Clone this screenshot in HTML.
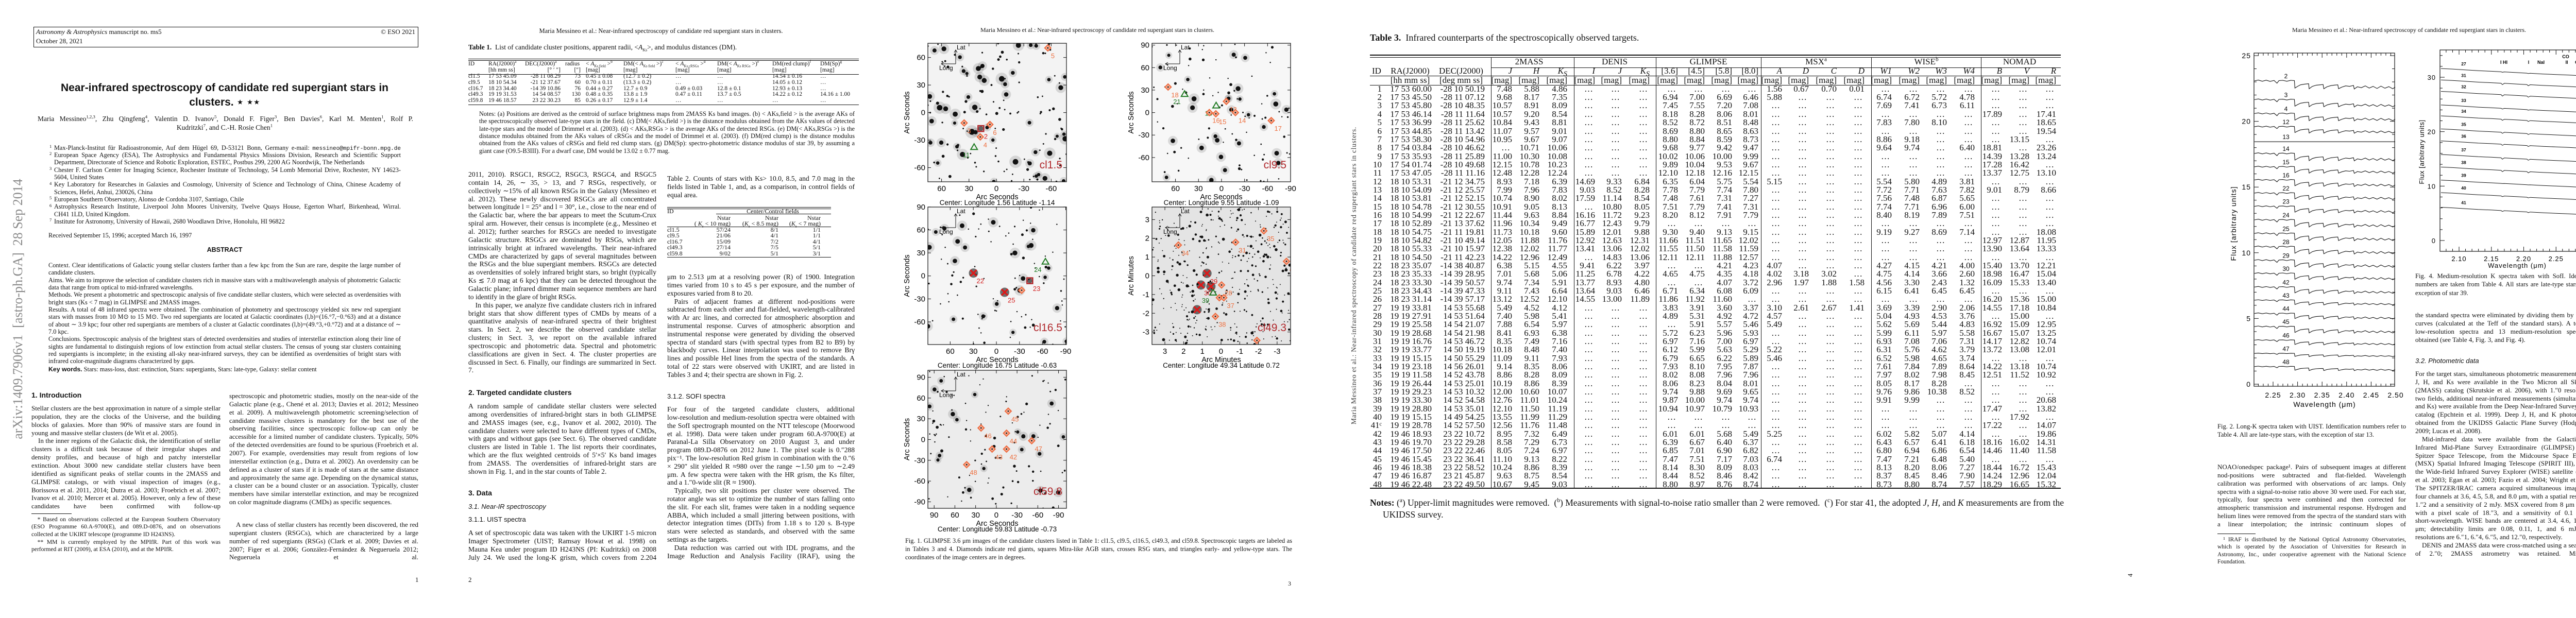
<!DOCTYPE html>
<html><head><meta charset="utf-8">
<style>
body{margin:0}
#root{position:relative;width:5090px;height:1200px;background:#fff;overflow:hidden;font-family:"Liberation Serif",serif;color:#111}
.a{position:absolute;white-space:nowrap}
.ln{position:absolute;overflow:hidden;text-align:justify;text-align-last:justify;white-space:normal}
.ln.e{text-align-last:left}
.sans{font-family:"Liberation Sans",sans-serif}
.hr{position:absolute;background:#111}
sup{font-size:65%;line-height:0}
</style></head>
<body>
<div id="root">
<!-- PAGE 1 -->
<div class="a" style="left:35px;top:600px;font-size:26px;color:#8a8a8a;transform:translate(-50%,-50%) rotate(-90deg)">arXiv:1409.7906v1&nbsp; [astro-ph.GA]&nbsp; 28 Sep 2014</div>
<div class="a" style="left:65px;top:52px;width:745px;height:38px;border:1px solid #111"></div>
<div class="a" style="left:70px;top:54px;font-size:13px"><i>Astronomy &amp; Astrophysics</i> manuscript no. ms5</div>
<div class="a" style="left:70px;top:72px;font-size:13px">October 28, 2021</div>
<div class="a" style="right:4284px;top:54px;font-size:13px">© ESO 2021</div>
<div class="a sans" style="left:436px;top:159px;font-size:21px;font-weight:bold;transform:translateX(-50%)">Near-infrared spectroscopy of candidate red supergiant stars in</div>
<div class="a sans" style="left:436px;top:186px;font-size:21px;font-weight:bold;transform:translateX(-50%)">clusters. ⋆ ⋆⋆</div>
<div class="ln" style="left:73px;top:222px;width:729px;height:18px;line-height:18px;font-size:13.5px">Maria Messineo<sup>1,2,3</sup>, Zhu Qingfeng<sup>4</sup>, Valentin D. Ivanov<sup>5</sup>, Donald F. Figer<sup>3</sup>, Ben Davies<sup>6</sup>, Karl M. Menten<sup>1</sup>, Rolf P.</div>
<div class="a" style="left:436px;top:240px;font-size:13.5px;transform:translateX(-50%)">Kudritzki<sup>7</sup>, and C.-H. Rosie Chen<sup>1</sup></div>
<div class="a" style="left:94px;top:450px;font-size:12.3px">Received September 15, 1996; accepted March 16, 1997</div>
<div class="a sans" style="left:436px;top:478px;font-size:12.5px;font-weight:bold;transform:translateX(-50%)">ABSTRACT</div>
<div class="a" style="left:94px;top:710px;font-size:12.3px"><b class="sans">Key words.</b> Stars: mass-loss, dust: extinction, Stars: supergiants, Stars: late-type, Galaxy: stellar content</div>
<div class="a sans" style="left:61px;top:759px;font-size:14px;font-weight:bold">1. Introduction</div>
<div class="hr" style="left:61px;top:997px;width:78px;height:1px"></div>
<div class="a" style="left:806px;top:1118px;font-size:13px">1</div>
<!-- PAGE 2 -->
<div class="a" style="left:1283px;top:53px;font-size:12.5px;transform:translateX(-50%)">Maria Messineo et al.: Near-infrared spectroscopy of candidate red supergiant stars in clusters.</div>
<div class="a" style="left:909px;top:84px;font-size:13.5px"><b>Table 1.</b>&nbsp; List of candidate cluster positions, apparent radii, &lt;<i>A</i><sub style="font-size:8px">Ks</sub>&gt;, and modulus distances (DM).</div>
<div class="a sans" style="left:909px;top:754px;font-size:14px;font-weight:bold">2. Targeted candidate clusters</div>
<div class="a sans" style="left:909px;top:949px;font-size:14px;font-weight:bold">3. Data</div>
<div class="a sans" style="left:909px;top:976px;font-size:13px;font-style:italic">3.1. Near-IR spectroscopy</div>
<div class="a sans" style="left:909px;top:1001px;font-size:13px">3.1.1. UIST spectra</div>
<div class="a sans" style="left:1295px;top:762px;font-size:13px">3.1.2. SOFI spectra</div>
<div class="a" style="left:909px;top:1118px;font-size:13px">2</div>
<!-- PAGE 3 -->
<div class="a" style="left:2130px;top:51px;font-size:12px;transform:translateX(-50%)">Maria Messineo et al.: Near-infrared spectroscopy of candidate red supergiant stars in clusters.</div>
<div class="a" style="left:2500px;top:1126px;font-size:12px">3</div>
<!-- PAGE 4 -->
<div class="a" style="left:2628px;top:535px;font-size:13.5px;letter-spacing:0.7px;color:#333;transform:translate(-50%,-50%) rotate(-90deg)">Maria Messineo et al.: Near-infrared spectroscopy of candidate red supergiant stars in clusters.</div>
<div class="a" style="left:2659px;top:63px;font-size:18px"><b>Table 3.</b>&nbsp; Infrared counterparts of the spectroscopically observed targets.</div>
<div class="a" style="left:2659px;top:966px;font-size:17.5px"><b>Notes:</b> (<sup>a</sup>) Upper-limit magnitudes were removed.&nbsp; (<sup>b</sup>) Measurements with signal-to-noise ratio smaller than 2 were removed.&nbsp; (<sup>c</sup>) For star 41, the adopted <i>J</i>, <i>H</i>, and <i>K</i> measurements are from the</div>
<div class="a" style="left:2684px;top:989px;font-size:17.5px">UKIDSS survey.</div>
<div class="a" style="left:4135px;top:1117px;font-size:13px;transform:translate(-50%,-50%) rotate(-90deg)">4</div>
<!-- PAGE 5 -->
<div class="a" style="left:4676px;top:51px;font-size:12px;transform:translateX(-50%)">Maria Messineo et al.: Near-infrared spectroscopy of candidate red supergiant stars in clusters.</div>
<div class="a sans" style="left:4688px;top:693px;font-size:13px;font-style:italic">3.2. Photometric data</div>
<div class="hr" style="left:4304px;top:1036px;width:74px;height:1px"></div>
<div class="a" style="left:5046px;top:1126px;font-size:12px">5</div>

<svg id="fig" width="5090" height="1200" style="position:absolute;left:0;top:0" xmlns="http://www.w3.org/2000/svg"></svg>
</div>

<script>
// ===== Fig. 2 data (long-K UIST spectra) =====
const fig2Ids = ['2','3','4','12','13','14','15','16','22','23','24','25','28','29','30','42','43','44','45','46','47','48'];
const fig2Base = [23.08,21.65,20.59,19.59,18.45,17.55,16.54,15.54,14.54,13.53,12.5,11.47,10.46,9.43,8.43,7.39,6.39,5.38,4.38,3.35,2.34,1.34];
const fig2Depth = [1.0,0.9,0.9,0.8,0,0.9,0.8,0.8,0.8,0.8,0.9,0.9,0.9,0.9,0.8,0.8,0.6,0.7,0.8,0.6,0.4,0.5];
const longKwl = [2.212,2.220,2.228,2.236,2.244,2.252,2.258,2.262,2.270,2.278,2.286,2.2935,2.2945,2.300,2.306,2.314,2.322,2.3225,2.3235,2.330,2.338,2.346,2.352,2.3535,2.360,2.368,2.376,2.382,2.3835,2.390,2.398,2.406,2.414,2.4155,2.422,2.430,2.438,2.446,2.454,2.462,2.470,2.478,2.486,2.494,2.499];
const longKoff = [0,0.06,-0.03,0.05,-0.04,0.03,-0.18,0.02,0.04,-0.03,0.04,0.02,-0.55,-0.42,-0.30,-0.25,-0.22,-0.22,-0.60,-0.42,-0.33,-0.30,-0.28,-0.60,-0.45,-0.36,-0.32,-0.30,-0.60,-0.48,-0.38,-0.42,-0.35,-0.62,-0.45,-0.52,-0.38,-0.55,-0.42,-0.58,-0.40,-0.56,-0.44,-0.60,-0.48];
const fig2YTicks = [0,5,10,15,20,25];
const fig2XTicks = ['2.25','2.30','2.35','2.40','2.45','2.50'];
// ===== Fig. 4 data (medium-resolution SofI spectra) =====
const fig4Ids = ['27','31','32','33','34','35','36','37','38','39','40','41'];
const fig4Base = [31.6,29.5,27.4,24.9,22.9,20.5,18.3,15.8,13.5,11.1,8.8,6.1];
const fig4Depth = [0.3,1,1,0.5,0.8,0.8,0.8,1,1,0.1,0.5,0.6];
const medKwl = [2.072,2.090,2.110,2.130,2.150,2.165,2.167,2.170,2.190,2.205,2.207,2.210,2.230,2.250,2.270,2.285,2.2935,2.2945,2.298,2.302,2.306,2.309];
const medKslope = [0,-0.1,-0.25,-0.4,-0.5,-0.6,-0.61,-0.62,-0.75,-0.85,-0.86,-0.87,-1.0,-1.1,-1.2,-1.3,-1.35,-1.36,-1.38,-1.4,-1.42,-1.44];
const medKfeat = [0,0,0,0,0,0,-0.25,0,0,0,-0.2,0,0,0,0,0,0,-0.95,-0.6,-0.55,-0.8,-0.6];
const fig4YTicks = [0,10,20,30];
const fig4XTicks = ['2.10','2.15','2.20','2.25','2.30'];
// ===== Fig. 1 target markers (data coordinates, arcsec / arcmin) =====
const cl15X = [35.3,7.1,17.6,-56.3,17,24.4];
const cl15Y = [-11.3,-13,-26.5,70.4,-17.4,-37.4];
const cl15Type = ['d','d','d','d','s','t'];
const cl15Lab = ['3','6','4','5','2','11'];
const cl95X = [69.6,48.1,7,-6.3,15.9,7.4,-18.1,-64.8];
const cl95Y = [34.1,25,9.6,14.9,0,-1.6,0,-10.7];
const cl95Type = ['d','t','t','d','d','d','d','d'];
const cl95Lab = ['18','21','13','12','16','15','14','17'];
const cl165X = [29.8,-10.7,-43.4,-32.8,-63.7];
const cl165Y = [3.7,-21.4,-6.3,-18.8,18.8];
const cl165Type = ['x','x','s','d','t'];
const cl165Lab = ['22','25','23','','24'];
const cl493X = [-2.29,-0.78,2.28,-3.5,0.75,1.07,0.54,-0.03,0.42,0.09,-0.15,1.28,0.3,-1.92];
const cl493Y = [2.4,1.79,1.64,0.77,0.13,-0.49,-0.57,-0.49,-0.89,-1.17,-1.17,-1.81,-2.17,-3.45];
const cl493Type = ['d','d','d','d','x','x','x','d','t','d','d','x','d','d'];
const cl493Lab = ['35','31','34','45','29','30','','28','39','','37','','38','32'];
const cl598X = [-17.2,22.1,-14.7,6.1,-14.7,-51.2,43];
const cl598Y = [41,16.7,9.2,-13.8,-13.8,-1.7,-36.3];
const cl598Type = ['d','d','d','d','d','d','d'];
const cl598Lab = ['45','46','44','43','42','47','48'];
const cl15XTicks=[60,30,0,-30,-60], cl15YTicks=[60,30,0,-30,-60];
const cl95XTicks=[60,30,0,-30,-60,-90], cl95YTicks=[90,60,30,0,-30,-60];
const cl165XTicks=[60,30,0,-30,-60,-90], cl165YTicks=[90,60,30,0,-30,-60];
const cl493XTicks=[3,2,1,0,-1,-2,-3], cl493YTicks=[3,2,1,0,-1,-2,-3];
const cl598XTicks=[90,60,30,0,-30,-60,-90], cl598YTicks=[90,60,30,0,-30,-60,-90];
// ===== Table 1 =====
const t1Rows = [
 ['cl1.5','17 53 45.09','-28 11 08.29','73','0.45 ± 0.08','(12.7 ± 0.2)','…','…','14.54 ± 0.16','…'],
 ['cl9.5','18 10 54.34','-21 12 37.67','60','0.70 ± 0.11','(13.3 ± 0.2)','…','…','14.05 ± 0.12','…'],
 ['cl16.7','18 23 34.40','-14 39 10.86','76','0.44 ± 0.27','12.7 ± 0.9','0.49 ± 0.03','12.8 ± 0.1','12.93 ± 0.13','…'],
 ['cl49.3','19 19 31.53','14 54 08.57','130','0.48 ± 0.35','13.8 ± 1.9','0.47 ± 0.11','13.7 ± 0.5','14.22 ± 0.12','14.16 ± 1.00'],
 ['cl59.8','19 46 18.57','23 22 30.23','85','0.26 ± 0.17','12.9 ± 1.4','…','…','…','…']];
// ===== Table 2 =====
const t2Rows = [['cl1.5','57/24','8/1','1/1'],['cl9.5','21/06','4/1','1/1'],['cl16.7','15/09','7/2','4/1'],['cl49.3','27/14','7/5','5/1'],['cl59.8','9/02','5/1','3/1']];
// ===== Table 3 =====
const t3Rows = [
"1|17 53 60.00|-28 10 50.19|7.48 5.88 4.86/x/x/1.56 0.67 0.70 0.01/x/x",
"2|17 53 45.50|-28 11 07.12|9.68 8.17 7.35/x/6.94 7.00 6.69 6.46/5.88 - - -/6.74 6.72 5.72 4.78/x",
"3|17 53 45.80|-28 10 48.35|10.57 8.91 8.09/x/7.45 7.55 7.20 7.08/x/7.69 7.41 6.73 6.11/x",
"4|17 53 46.14|-28 11 11.64|10.57 9.20 8.54/x/8.18 8.28 8.06 8.01/x/x/17.89 - 17.41",
"5|17 53 36.99|-28 11 25.62|10.84 9.43 8.81/x/8.52 8.72 8.51 8.48/x/7.83 7.80 8.10 -/- - 18.65",
"6|17 53 44.85|-28 11 13.42|11.07 9.57 9.01/x/8.69 8.80 8.65 8.63/x/x/- - 19.54",
"7|17 53 58.30|-28 10 54.96|10.95 9.67 9.07/x/8.80 8.84 8.59 8.73/x/8.86 9.18 - -/- 13.15 -",
"8|17 54 03.84|-28 10 46.62|- 10.71 10.06/x/9.68 9.77 9.42 9.47/x/9.64 9.74 - 6.40/18.81 - 23.26",
"9|17 53 35.93|-28 11 25.89|11.00 10.30 10.08/x/10.02 10.06 10.00 9.99/x/x/14.39 13.28 13.24",
"10|17 54 01.74|-28 10 49.68|12.15 10.78 10.23/x/9.89 10.04 9.53 9.67/x/x/17.28 16.42 -",
"11|17 53 47.05|-28 11 11.16|12.48 12.28 12.24/x/12.10 12.18 12.16 12.15/x/x/13.37 12.75 13.10",
"12|18 10 53.31|-21 12 34.75|8.93 7.18 6.39/14.69 9.33 6.84/6.35 6.04 5.75 5.54/5.15 - - -/5.54 5.80 4.89 3.81/x",
"13|18 10 54.09|-21 12 25.57|7.99 7.96 7.83/9.03 8.52 8.28/7.78 7.79 7.74 7.80/x/7.72 7.71 7.63 7.82/9.01 8.79 8.66",
"14|18 10 53.81|-21 12 52.15|10.74 8.90 8.02/17.59 11.14 8.54/7.48 7.61 7.31 7.27/x/7.56 7.48 6.87 5.65/x",
"15|18 10 54.78|-21 12 30.55|10.91 9.05 8.13/- 10.80 8.05/7.51 7.79 7.41 7.31/x/7.74 7.71 6.96 6.00/x",
"16|18 10 54.99|-21 12 22.67|11.44 9.63 8.84/16.16 11.72 9.23/8.20 8.12 7.91 7.79/x/8.40 8.19 7.89 7.51/x",
"17|18 10 52.89|-21 13 37.62|11.96 10.34 9.49/16.77 12.43 9.79/x/x/x/x",
"18|18 10 54.75|-21 11 19.81|11.73 10.18 9.60/15.89 12.01 9.88/9.30 9.40 9.13 9.15/x/9.19 9.27 8.69 7.14/- - 18.08",
"19|18 10 54.82|-21 10 49.14|12.05 11.88 11.76/12.92 12.63 12.31/11.66 11.51 11.65 12.02/x/x/12.97 12.87 11.95",
"20|18 10 55.33|-21 10 15.97|12.38 12.02 11.77/13.41 13.06 12.02/11.55 11.50 11.58 11.59/x/x/13.90 13.64 13.33",
"21|18 10 54.50|-21 11 42.23|14.22 12.96 12.49/- 14.83 13.06/12.11 12.11 11.88 12.57/x/x/x",
"22|18 23 35.07|-14 38 40.87|6.38 5.15 4.55/9.41 6.22 3.97/- - 4.21 4.23/4.07 - - -/4.27 4.15 4.21 4.00/15.40 13.70 12.21",
"23|18 23 35.33|-14 39 28.95|7.01 5.68 5.06/11.25 6.78 4.22/4.65 4.75 4.35 4.18/4.02 3.18 3.02 -/4.75 4.14 3.66 2.60/18.98 16.47 15.04",
"24|18 23 33.30|-14 39 50.57|9.74 7.34 5.91/13.77 8.93 4.80/- - 4.07 3.72/2.96 1.97 1.88 1.58/4.56 3.30 2.43 1.32/16.09 15.33 13.40",
"25|18 23 34.43|-14 39 47.33|9.11 7.43 6.64/13.64 9.03 6.46/6.71 6.34 6.08 6.09/x/6.15 6.41 6.45 6.45/x",
"26|18 23 31.14|-14 39 57.17|13.12 12.52 12.10/14.55 13.00 11.89/11.86 11.92 11.60 -/x/x/16.20 15.36 15.00",
"27|19 19 33.81|14 53 55.68|5.49 4.52 4.12/x/3.83 3.91 3.60 3.37/3.10 2.61 2.67 1.41/3.69 3.39 2.90 2.06/14.55 17.18 10.84",
"28|19 19 27.91|14 53 51.64|7.40 5.98 5.41/x/4.89 5.31 4.92 4.72/4.57 - - -/5.04 4.93 4.53 3.76/- 15.00 -",
"29|19 19 25.58|14 54 21.07|7.88 6.54 5.97/x/- 5.91 5.57 5.46/5.49 - - -/5.62 5.69 5.44 4.83/16.92 15.09 12.95",
"30|19 19 28.68|14 54 21.98|8.41 6.93 6.38/x/5.72 6.23 5.96 5.93/x/5.99 6.11 5.97 5.58/16.67 15.07 13.25",
"31|19 19 16.76|14 53 46.72|8.35 7.49 7.16/x/6.97 7.16 7.00 6.97/x/6.93 7.08 7.06 7.31/14.17 12.82 10.74",
"32|19 19 33.77|14 50 19.19|10.18 8.48 7.40/x/6.12 5.99 5.63 5.29/5.22 - - -/6.31 5.76 4.62 3.79/13.72 13.08 12.01",
"33|19 19 15.15|14 50 55.29|11.09 9.11 7.93/x/6.79 6.65 6.22 5.89/5.46 - - -/6.52 5.98 4.65 3.74/x",
"34|19 19 23.18|14 56 26.01|9.14 8.35 8.06/x/7.93 8.10 7.95 7.87/x/7.61 7.84 7.89 8.64/14.22 13.18 10.74",
"35|19 19 11.58|14 52 43.78|8.86 8.28 8.09/x/8.02 8.08 7.96 7.96/x/7.97 8.02 7.98 8.45/12.51 11.52 10.92",
"36|19 19 26.44|14 53 25.01|10.19 8.86 8.39/x/8.06 8.23 8.04 8.01/x/8.05 8.17 8.28 -/x",
"37|19 19 29.23|14 53 10.32|12.00 10.60 10.07/x/9.74 9.88 9.69 9.65/x/9.76 9.86 10.38 8.52/x",
"38|19 19 33.30|14 52 54.58|12.76 11.01 10.24/x/9.87 10.00 9.74 9.74/x/9.91 9.99 - -/- - 20.68",
"39|19 19 28.80|14 53 35.01|12.10 11.50 11.19/x/10.94 10.97 10.79 10.93/x/x/17.47 - 13.82",
"40|19 19 15.15|14 49 54.25|13.55 11.99 11.29/x/x/x/x/- 17.92 -",
"41ᶜ|19 19 28.78|14 52 57.50|12.56 11.76 11.48/x/x/x/x/17.22 - 14.07",
"42|19 46 18.93|23 22 10.72|8.95 7.32 6.49/x/6.01 6.01 5.68 5.49/5.25 - - -/6.02 5.82 5.07 4.14/- - 19.86",
"43|19 46 19.70|23 22 29.28|8.58 7.29 6.73/x/6.39 6.67 6.40 6.37/x/6.43 6.57 6.41 6.18/18.16 16.02 14.31",
"44|19 46 17.50|23 22 22.46|8.05 7.24 6.97/x/6.85 7.01 6.90 6.82/x/6.80 6.94 6.86 6.54/14.46 11.40 11.58",
"45|19 46 15.45|23 22 36.41|11.10 9.13 8.22/x/7.47 7.51 7.17 7.03/6.74 - - -/7.47 7.21 6.48 5.40/x",
"46|19 46 18.38|23 22 58.52|10.24 8.86 8.39/x/8.14 8.30 8.09 8.03/x/8.13 8.20 8.06 7.27/18.44 16.72 15.43",
"47|19 46 16.87|23 21 45.87|9.63 8.75 8.54/x/8.44 8.52 8.46 8.42/x/8.37 8.45 8.46 7.90/14.24 12.96 12.04",
"48|19 46 22.48|23 22 49.50|10.67 9.45 9.03/x/8.80 8.97 8.76 8.74/x/8.73 8.80 8.74 7.57/18.29 16.65 15.32"];
const t3ColNames = ['J','H','K<sub>S</sub>','I','J','K<sub>S</sub>','[3.6]','[4.5]','[5.8]','[8.0]','A','D','C','D','W1','W2','W3','W4','B','V','R'];
const t3Groups = ['2MASS','DENIS','GLIMPSE','MSX<sup>a</sup>','WISE<sup>b</sup>','NOMAD'];

// ================= helpers =================
const root = document.getElementById('root');
const svg = document.getElementById('fig');
const NS = 'http://www.w3.org/2000/svg';
const W = 5090;
const cv = document.createElement('canvas').getContext('2d');

function txt(x, y, s, fs, align, name, opts) {
  const d = document.createElement('div');
  d.className = 'a' + (opts && opts.sans ? ' sans' : '');
  
  
  let st = `top:${y - fs * 0.6}px;line-height:${fs * 1.2}px;font-size:${fs}px;`;
  if (align === 'r') st += `right:${W - x}px;`;
  else if (align === 'c') st += `left:${x}px;transform:translateX(-50%);`;
  else st += `left:${x}px;`;
  if (opts && opts.style) st += opts.style;
  d.style.cssText = st;
  d.innerHTML = s;
  root.appendChild(d);
  return d;
}
function rule(x, y, w, h, name) {
  const d = document.createElement('div');
  d.className = 'hr';
  
  
  d.style.cssText = `left:${x}px;top:${y}px;width:${w}px;height:${h}px`;
  root.appendChild(d);
}
function flow(name, x, y, w, lh, fs, paras, cont) {
  cv.font = fs + 'px "Liberation Serif"';
  let cy = y;
  paras.forEach((p0, pi) => {
    let p = p0, ind = 0;
    if (p[0] === '>') { ind = fs; p = p.slice(1); }
    const words = p.split(' ');
    const lines = []; let cur = '';
    words.forEach(wd => {
      const t = cur ? cur + ' ' + wd : wd;
      const avail = w - 3 - (lines.length === 0 ? ind : 0);
      if (cv.measureText(t).width > avail && cur) { lines.push(cur); cur = wd; } else cur = t;
    });
    if (cur) lines.push(cur);
    lines.forEach((t, i) => {
      const d = document.createElement('div');
      const last = (i === lines.length - 1) && !(cont && pi === paras.length - 1);
      d.className = 'ln' + (last ? ' e' : '');
      
      
      const ix = i === 0 ? ind : 0;
      d.style.cssText = `left:${x + ix}px;top:${cy - lh / 2}px;width:${w - ix}px;height:${lh}px;line-height:${lh}px;font-size:${fs}px`;
      d.textContent = t;
      root.appendChild(d);
      cy += lh;
    });
  });
  return cy;
}
function fixedLines(name, x, y, w, lh, fs, arr) {
  arr.forEach((a, i) => {
    const d = document.createElement('div');
    d.className = 'ln' + (a[1] ? '' : ' e');
    
    
    d.style.cssText = `left:${x}px;top:${y + i * lh - lh / 2}px;width:${w}px;height:${lh}px;line-height:${lh}px;font-size:${fs}px`;
    d.innerHTML = a[0];
    root.appendChild(d);
  });
}
function S(tag, attrs, parent) {
  const e = document.createElementNS(NS, tag);
  for (const k in attrs) e.setAttribute(k, attrs[k]);
  (parent || svg).appendChild(e);
  return e;
}
function lin(d0, d1, r0, r1) { return v => r0 + (v - d0) * (r1 - r0) / (d1 - d0); }

// ================= PAGE 1 text =================
fixedLines('affiliation', 105, 287, 673, 14.33, 12.3, [
 ['Max-Planck-Institut für Radioastronomie, Auf dem Hügel 69, D-53121 Bonn, Germany e-mail: <span style="font-family:Liberation Mono;font-size:11px">messineo@mpifr-bonn.mpg.de</span>', true],
 ['European Space Agency (ESA), The Astrophysics and Fundamental Physics Missions Division, Research and Scientific Support', true],
 ['Department, Directorate of Science and Robotic Exploration, ESTEC, Postbus 299, 2200 AG Noordwijk, The Netherlands', false],
 ['Chester F. Carlson Center for Imaging Science, Rochester Institute of Technology, 54 Lomb Memorial Drive, Rochester, NY 14623-', true],
 ['5604, United States', false],
 ['Key Laboratory for Researches in Galaxies and Cosmology, University of Science and Technology of China, Chinese Academy of', true],
 ['Sciences, Hefei, Anhui, 230026, China', false],
 ['European Southern Observatory, Alonso de Cordoba 3107, Santiago, Chile', false],
 ['Astrophysics Research Institute, Liverpool John Moores University, Twelve Quays House, Egerton Wharf, Birkenhead, Wirral.', true],
 ['CH41 1LD, United Kingdom.', false],
 ['Institute for Astronomy, University of Hawaii, 2680 Woodlawn Drive, Honolulu, HI 96822', false]]);
[['1',0],['2',1],['3',3],['4',5],['5',7],['6',8],['7',10]].forEach(a => {
  txt(96, 284 + a[1] * 14.33, a[0], 8.5, 'l', 'affiliation-number');
});
flow('abstract', 94, 515, 684, 14.35, 12.3, [
 'Context. Clear identifications of Galactic young stellar clusters farther than a few kpc from the Sun are rare, despite the large number of candidate clusters.',
 'Aims. We aim to improve the selection of candidate clusters rich in massive stars with a multiwavelength analysis of photometric Galactic data that range from optical to mid-infrared wavelengths.',
 'Methods. We present a photometric and spectroscopic analysis of five candidate stellar clusters, which were selected as overdensities with bright stars (Ks < 7 mag) in GLIMPSE and 2MASS images.',
 'Results. A total of 48 infrared spectra were obtained. The combination of photometry and spectroscopy yielded six new red supergiant stars with masses from 10 M⊙ to 15 M⊙. Two red supergiants are located at Galactic coordinates (l,b)=(16.°7,−0.°63) and at a distance of about ∼ 3.9 kpc; four other red supergiants are members of a cluster at Galactic coordinates (l,b)=(49.°3,+0.°72) and at a distance of ∼ 7.0 kpc.',
 'Conclusions. Spectroscopic analysis of the brightest stars of detected overdensities and studies of interstellar extinction along their line of sights are fundamental to distinguish regions of low extinction from actual stellar clusters. The census of young star clusters containing red supergiants is incomplete; in the existing all-sky near-infrared surveys, they can be identified as overdensities of bright stars with infrared color-magnitude diagrams characterized by gaps.']);
flow('intro-left', 61, 793, 367, 15.85, 13, [
 'Stellar clusters are the best approximation in nature of a simple stellar population, they are the clocks of the Universe, and the building blocks of galaxies. More than 90% of massive stars are found in young and massive stellar clusters (de Wit et al. 2005).',
 '>In the inner regions of the Galactic disk, the identification of stellar clusters is a difficult task because of their irregular shapes and density profiles, and because of high and patchy interstellar extinction. About 3000 new candidate stellar clusters have been identified as significant peaks of stellar counts in the 2MASS and GLIMPSE catalogs, or with visual inspection of images (e.g., Borissova et al. 2011, 2014; Dutra et al. 2003; Froebrich et al. 2007; Ivanov et al. 2010; Mercer et al. 2005). However, only a few of these candidates have been confirmed with follow-up'], true);
flow('footnotes-p1', 61, 1009, 367, 14.6, 11.6, [
 '>* Based on observations collected at the European Southern Observatory (ESO Programme 60.A-9700(E), and 089.D-0876, and on observations collected at the UKIRT telescope (programme ID H243NS).',
 '>** MM is currently employed by the MPIfR. Part of this work was performed at RIT (2009), at ESA (2010), and at the MPIfR.']);
flow('intro-right', 445, 769, 367, 15.85, 13, [
 'spectroscopic and photometric studies, mostly on the near-side of the Galactic plane (e.g., Chené et al. 2013; Davies et al. 2012; Messineo et al. 2009). A multiwavelength photometric screening/selection of candidate massive clusters is mandatory for the best use of the observing facilities, since spectroscopic follow-up can only be accessible for a limited number of candidate clusters. Typically, 50% of the detected overdensities are found to be spurious (Froebrich et al. 2007). For example, overdensities may result from regions of low interstellar extinction (e.g., Dutra et al. 2002). An overdensity can be defined as a cluster of stars if it is made of stars at the same distance and approximately the same age. Depending on the dynamical status, a cluster can be a bound cluster or an association. Typically, cluster members have similar interstellar extinction, and may be recognized on color magnitude diagrams (CMDs) as specific sequences.']);
flow('intro-right-2', 445, 1019, 367, 15.85, 13, [
 '>A new class of stellar clusters has recently been discovered, the red supergiant clusters (RSGCs), which are characterized by a large number of red supergiants (RSGs) (Clark et al. 2009; Davies et al. 2007; Figer et al. 2006; González-Fernández & Negueruela 2012; Negueruela et al.'], true);

// ================= PAGE 2 =================
rule(909, 114, 758, 1, 'table1-top-rule'); rule(909, 117, 758, 1, 'table1-top-rule-2');
rule(909, 144, 758, 1, 'table1-header-rule'); rule(909, 203, 758, 1, 'table1-bottom-rule');
const t1X = [909, 948, 1088, 1127, 1137, 1210, 1311, 1392, 1499, 1592];
const t1Al = ['l','l','r','r','l','l','l','l','l','l'];
const t1H1 = ['ID','RA(J2000)<sup>a</sup>','DEC(J2000)<sup>a</sup>','radius','&lt; <i>A</i><sub style="font-size:7px">Ks field</sub> &gt;<sup>b</sup>','DM(&lt; <i>A</i><sub style="font-size:7px">Ks field</sub> &gt;)<sup>c</sup>','&lt; <i>A</i><sub style="font-size:7px">Ks cRSGs</sub> &gt;<sup>d</sup>','DM(&lt; <i>A</i><sub style="font-size:7px">Ks RSGs</sub> &gt;)<sup>e</sup>','DM(red clump)<sup>f</sup>','DM(Sp)<sup>g</sup>'];
const t1H2 = ['','[hh mm ss]','[° ′ ″]','[″]','[mag]','[mag]','[mag]','[mag]','[mag]','[mag]'];
t1H1.forEach((h, i) => { txt(i === 2 ? 1019 : (i === 3 ? 1097 : t1X[i]), 125, h, 11.5, 'l', 'table1-header'); });
t1H2.forEach((h, i) => { if (h) txt(t1X[i], 137, h, 11.5, t1Al[i], 'table1-units'); });
t1Rows.forEach((r, ri) => r.forEach((c, ci) => { txt(t1X[ci], 149 + ri * 11.7, c, 11.5, t1Al[ci], 'table1-cell'); }));
flow('table1-notes', 930, 221, 729, 14.4, 12.3, [
 'Notes: (a) Positions are derived as the centroid of surface brightness maps from 2MASS Ks band images. (b) < AKs,field > is the average AKs of the spectroscopically observed late-type stars in the field. (c) DM(< AKs,field >) is the distance modulus obtained from the AKs values of detected late-type stars and the model of Drimmel et al. (2003). (d) < AKs,RSGs > is the average AKs of the detected RSGs. (e) DM(< AKs,RSGs >) is the distance modulus obtained from the AKs values of cRSGs and the model of Drimmel et al. (2003). (f) DM(red clump) is the distance modulus obtained from the AKs values of cRSGs and field red clump stars. (g) DM(Sp): spectro-photometric distance modulus of star 39, by assuming a giant case (O9.5-B3III). For a dwarf case, DM would be 13.02 ± 0.77 mag.']);
flow('p2-left-a', 909, 339, 365, 15.85, 13.6, [
 '2011, 2010). RSGC1, RSGC2, RSGC3, RSGC4, and RSGC5 contain 14, 26, ∼ 35, > 13, and 7 RSGs, respectively, or collectively ∼15% of all known RSGs in the Galaxy (Messineo et al. 2012). These newly discovered RSGCs are all concentrated between longitude l = 25° and l = 30°, i.e., close to the near end of the Galactic bar, where the bar appears to meet the Scutum-Crux spiral arm. However, their census is incomplete (e.g., Messineo et al. 2012); further searches for RSGCs are needed to investigate Galactic structure. RSGCs are dominated by RSGs, which are intrinsically bright at infrared wavelengths. Their near-infrared CMDs are characterized by gaps of several magnitudes between the RSGs and the blue supergiant members. RSGCs are detected as overdensities of solely infrared bright stars, so bright (typically Ks ≲ 7.0 mag at 6 kpc) that they can be detected throughout the Galactic plane; infrared dimmer main sequence members are hard to identify in the glare of bright RSGs.',
 '>In this paper, we analyze five candidate clusters rich in infrared bright stars that show different types of CMDs by means of a quantitative analysis of near-infrared spectra of their brightest stars. In Sect. 2, we describe the observed candidate stellar clusters; in Sect. 3, we report on the available infrared spectroscopic and photometric data. Spectral and photometric classifications are given in Sect. 4. The cluster properties are discussed in Sect. 6. Finally, our findings are summarized in Sect. 7.']);
flow('p2-left-b', 909, 789, 365, 15.8, 13.6, [
 'A random sample of candidate stellar clusters were selected among overdensities of infrared-bright stars in both GLIMPSE and 2MASS images (see, e.g., Ivanov et al. 2002, 2010). The candidate clusters were selected to have different types of CMDs, with gaps and without gaps (see Sect. 6). The observed candidate clusters are listed in Table 1. The list reports their coordinates, which are the flux weighted centroids of 5′×5′ Ks band images from 2MASS. The overdensities of infrared-bright stars are shown in Fig. 1, and in the star counts of Table 2.']);
flow('p2-left-c', 909, 1035, 365, 15.8, 13.6, [
 'A set of spectroscopic data was taken with the UKIRT 1-5 micron Imager Spectrometer (UIST; Ramsay Howat et al. 1998) on Mauna Kea under program ID H243NS (PI: Kudritzki) on 2008 July 24. We used the long-K grism, which covers from 2.204'], true);
flow('table2-caption', 1295, 347, 364, 16, 13.6, ['Table 2. Counts of stars with Ks> 10.0, 8.5, and 7.0 mag in the fields listed in Table 1, and, as a comparison, in control fields of equal area.']);
rule(1295, 402, 318, 1, 'table2-top-rule'); rule(1295, 405, 318, 1, 'table2-top-rule-2');
rule(1390, 415, 223, 1, 'table2-group-rule'); rule(1295, 440, 318, 1, 'table2-header-rule'); rule(1295, 499, 318, 1, 'table2-bottom-rule');
txt(1295, 410, 'ID', 12, 'l', 'table2-header');
txt(1500, 410, 'Center/Control fields', 12, 'c', 'table2-header');
const t2X = [1295, 1418, 1511, 1593];
['Nstar','Nstar','Nstar'].forEach((h, i) => { txt(t2X[i + 1], 423, h, 12, 'r', 'table2-header'); });
['( <i>K</i><sub style="font-size:7px">s</sub> &lt; 10 mag)','(<i>K</i><sub style="font-size:7px">s</sub> &lt; 8.5 mag)','(<i>K</i><sub style="font-size:7px">s</sub> &lt; 7 mag)'].forEach((h, i) => { txt(t2X[i + 1], 434, h, 12, 'r', 'table2-header'); });
t2Rows.forEach((r, ri) => r.forEach((c, ci) => { txt(t2X[ci], 446 + ri * 11.5, c, 12, ci ? 'r' : 'l', 'table2-cell'); }));
flow('p2-right-a', 1295, 538, 364, 15.8, 13.6, [
 'μm to 2.513 μm at a resolving power (R) of 1900. Integration times varied from 10 s to 45 s per exposure, and the number of exposures varied from 8 to 20.',
 '>Pairs of adjacent frames at different nod-positions were subtracted from each other and flat-fielded, wavelength-calibrated with Ar arc lines, and corrected for atmospheric absorption and instrumental response. Curves of atmospheric absorption and instrumental response were generated by dividing the observed spectra of standard stars (with spectral types from B2 to B9) by blackbody curves. Linear interpolation was used to remove Brγ lines and possible HeI lines from the spectra of the standards. A total of 22 stars were observed with UKIRT, and are listed in Tables 3 and 4; their spectra are shown in Fig. 2.']);
flow('p2-right-b', 1295, 795, 364, 15.8, 13.6, [
 'For four of the targeted candidate clusters, additional low-resolution and medium-resolution spectra were obtained with the SofI spectrograph mounted on the NTT telescope (Moorwood et al. 1998). Data were taken under program 60.A-9700(E) at Paranal-La Silla Observatory on 2010 August 3, and under program 089.D-0876 on 2012 June 1. The pixel scale is 0.″288 pix⁻¹. The low-resolution Red grism in combination with the 0.″6 × 290″ slit yielded R ≈980 over the range ∼1.50 μm to ∼2.49 μm. A few spectra were taken with the HR grism, the Ks filter, and a 1.″0-wide slit (R ≈ 1900).',
 '>Typically, two slit positions per cluster were observed. The rotator angle was set to optimize the number of stars falling onto the slit. For each slit, frames were taken in a nodding sequence ABBA, which included a small jittering between positions, with detector integration times (DITs) from 1.18 s to 120 s. B-type stars were selected as standards, and observed with the same settings as the targets.',
 '>Data reduction was carried out with IDL programs, and the Image Reduction and Analysis Facility (IRAF), using the'], true);

// ================= PAGE 3: Fig. 1 cluster images =================
function rng(seed) { let s = seed; return () => (s = (s * 16807) % 2147483647) / 2147483647; }
const panels = [
 {n:'cl1.5', x:1801, y:84, w:269, h:269, xd:[75,-76.7], yd:[-75.4,75.5], xt:cl15XTicks, yt:cl15YTicks, X:cl15X, Y:cl15Y, T:cl15Type, L:cl15Lab, bg:'#f3f3f3', ns:150, big:1, unit:'Arc Seconds', ctr:'Center:  Longitude 1.56 Latitude -1.14', seed:11},
 {n:'cl9.5', x:2236, y:84, w:269, h:269, xd:[90.6,-90], yd:[-92.4,92.5], xt:cl95XTicks, yt:cl95YTicks, X:cl95X, Y:cl95Y, T:cl95Type, L:cl95Lab, bg:'#f7f7f7', ns:110, big:0.8, unit:'Arc Seconds', ctr:'Center:  Longitude 9.55 Latitude -1.09', seed:23},
 {n:'cl16.5', x:1801, y:402, w:269, h:267, xd:[89,-91], yd:[-89.6,89.9], xt:cl165XTicks, yt:cl165YTicks, X:cl165X, Y:cl165Y, T:cl165Type, L:cl165Lab, bg:'#f5f5f5', ns:110, big:0.8, unit:'Arc Seconds', ctr:'Center:  Longitude 16.75 Latitude -0.63', seed:37},
 {n:'cl49.3', x:2236, y:402, w:269, h:267, xd:[3.69,-3.72], yd:[-3.67,3.67], xt:cl493XTicks, yt:cl493YTicks, X:cl493X, Y:cl493Y, T:cl493Type, L:cl493Lab, bg:'#e4e4e4', ns:420, big:0.45, unit:'Arc Minutes', ctr:'Center:  Longitude 49.34 Latitude 0.72', seed:51},
 {n:'cl59.8', x:1801, y:719, w:269, h:268, xd:[99.1,-101.5], yd:[-99.4,100.1], xt:cl598XTicks, yt:cl598YTicks, X:cl598X, Y:cl598Y, T:cl598Type, L:cl598Lab, bg:'#ececec', ns:120, big:0.7, unit:'Arc Seconds', ctr:'Center:  Longitude 59.83 Latitude -0.73', seed:67}];
const defs = S('defs', {});
panels.forEach((p, pi) => {
  const sx = lin(p.xd[0], p.xd[1], p.x, p.x + p.w);
  const sy = lin(p.yd[0], p.yd[1], p.y + p.h, p.y);
  const cp = S('clipPath', {id:'clip' + pi}, defs);
  S('rect', {x:p.x, y:p.y, width:p.w, height:p.h}, cp);
  const g = S('g', {'clip-path':'url(#clip' + pi + ')'});
  
  
  S('rect', {x:p.x, y:p.y, width:p.w, height:p.h, fill:p.bg}, g);
  // image texture (star field)
  const r = rng(p.seed);
  for (let i = 0; i < p.ns; i++) {
    const cx = p.x + r() * p.w, cy = p.y + r() * p.h;
    const rad = (0.8 + Math.pow(r(), 3) * 4.5) * p.big + 0.6;
    if (rad > 3) S('circle', {cx:cx, cy:cy, r:rad * 2.2, fill:'#000', 'fill-opacity':0.12}, g);
    S('circle', {cx:cx, cy:cy, r:rad, fill:'#111'}, g);
  }
  // targets
  p.X.forEach((xv, i) => {
    const cx = sx(xv), cy = sy(p.Y[i]), t = p.T[i];
    let m;
    if (t === 'd') {
      S('circle', {cx:cx, cy:cy, r:5, fill:'#000', 'fill-opacity':0.5}, g);
      m = S('polygon', {points:`${cx},${cy - 6} ${cx + 6},${cy} ${cx},${cy + 6} ${cx - 6},${cy}`, fill:'#f7b39b', stroke:'#ee6a3e', 'stroke-width':2}, g);
      S('circle', {cx:cx, cy:cy, r:1.5, fill:'#222'}, g);
    } else if (t === 's') {
      S('circle', {cx:cx, cy:cy, r:5, fill:'#000', 'fill-opacity':0.6}, g);
      m = S('rect', {x:cx - 5.5, y:cy - 5.5, width:11, height:11, fill:'none', stroke:'#b0282c', 'stroke-width':2.5}, g);
    } else if (t === 'x') {
      S('circle', {cx:cx, cy:cy, r:9, fill:'#000', 'fill-opacity':0.55}, g);
      m = S('path', {d:`M${cx - 6},${cy - 6}L${cx + 6},${cy + 6}M${cx + 6},${cy - 6}L${cx - 6},${cy + 6}`, stroke:'#e01818', 'stroke-width':3.2}, g);
    } else {
      m = S('polygon', {points:`${cx},${cy - 6} ${cx + 6.5},${cy + 5} ${cx - 6.5},${cy + 5}`, fill:'none', stroke:'#1f7a22', 'stroke-width':2}, g);
    }
    
    
    if (p.L[i]) {
      const col = t === 't' ? '#1f7a22' : (t === 'd' ? '#ee7040' : '#d42020');
      const lt = S('text', {x:cx + (t === 't' ? -22 : 6), y:cy + 20, fill:col, 'font-size':13, 'font-family':'Liberation Sans'}, g);
      lt.textContent = p.L[i];
      
      
    }
  });
  // compass
  const ox = p.x + 54, oy = p.y + 40;
  S('path', {d:`M${ox},${oy}V${oy - 27}M${ox - 3},${oy - 22}L${ox},${oy - 27}L${ox + 3},${oy - 22}M${ox},${oy}H${ox - 28}M${ox - 23},${oy - 3}L${ox - 28},${oy}L${ox - 23},${oy + 3}`, stroke:'#111', fill:'none', 'stroke-width':1}, g);
  const la = S('text', {x:ox + 2, y:oy - 28, 'font-size':12, 'font-family':'Liberation Sans'}, g); la.textContent = 'Lat';
  
  const lo = S('text', {x:ox - 32, y:oy + 12, 'font-size':12, 'font-family':'Liberation Sans'}, g); lo.textContent = 'Long';
  
  const cl = S('text', {x:p.x + p.w - 8, y:p.y + p.h - 26, 'text-anchor':'end', fill:'#b0282c', 'font-size':21, 'font-family':'Liberation Sans'}, g);
  cl.textContent = p.n;
  
  
  // frame & ticks
  const fr = S('rect', {x:p.x, y:p.y, width:p.w, height:p.h, fill:'none', stroke:'#111', 'stroke-width':1.2});
  
  
  p.xt.forEach(v => {
    const X = sx(v);
    S('path', {d:`M${X},${p.y + p.h}v-6M${X},${p.y}v6`, stroke:'#111'});
    const t = S('text', {x:X, y:p.y + p.h + 18, 'text-anchor':'middle', 'font-size':15, 'font-family':'Liberation Sans'});
    t.textContent = v;
    
  });
  p.yt.forEach(v => {
    const Y = sy(v);
    S('path', {d:`M${p.x},${Y}h6M${p.x + p.w},${Y}h-6`, stroke:'#111'});
    const t = S('text', {x:p.x - 5, y:Y + 5, 'text-anchor':'end', 'font-size':15, 'font-family':'Liberation Sans'});
    t.textContent = v;
    
  });
  const xa = S('text', {x:p.x + p.w / 2, y:p.y + p.h + 34, 'text-anchor':'middle', 'font-size':14.5, 'font-family':'Liberation Sans'});
  xa.textContent = p.unit;
  
  const ct = S('text', {x:p.x + p.w / 2, y:p.y + p.h + 45, 'text-anchor':'middle', 'font-size':13.5, 'font-family':'Liberation Sans'});
  ct.textContent = p.ctr;
  
  const ya = S('text', {x:0, y:0, 'text-anchor':'middle', 'font-size':14.5, 'font-family':'Liberation Sans', transform:`translate(${p.x - 36},${p.y + p.h / 2}) rotate(-90)`});
  ya.textContent = p.unit;
  
});
flow('fig1-caption', 1757, 1050, 751, 16, 12.3, ['Fig. 1. GLIMPSE 3.6 μm images of the candidate clusters listed in Table 1: cl1.5, cl9.5, cl16.5, cl49.3, and cl59.8. Spectroscopic targets are labeled as in Tables 3 and 4. Diamonds indicate red giants, squares Mira-like AGB stars, crosses RSG stars, and triangles early- and yellow-type stars. The coordinates of the image centers are in degrees.']);

// ================= PAGE 4: Table 3 =================
const T3L = 2659, T3R = 4000;
rule(T3L, 106, T3R - T3L, 2, 'table3-top-rule'); rule(T3L, 111, T3R - T3L, 1, 'table3-top-rule-2');
rule(2894, 131, T3R - 2894, 1, 'table3-group-rule');
rule(T3L, 147, T3R - T3L, 1, 'table3-header-rule'); rule(T3L, 165, T3R - T3L, 1, 'table3-units-rule');
rule(T3L, 947, T3R - T3L, 2, 'table3-bottom-rule');
[2894, 3055, 3214, 3418, 3632, 3845].forEach(x => rule(x, 112, 1, 836, 'table3-group-divider'));
const t3R = [2935,2988,3042,3096,3148,3202,3257,3309,3362,3413,3459,3511,3565,3619,3672,3726,3779,3833,3886,3939,3991];
const t3GroupC = [2968,3134,3316,3525,3739,3920];
t3Groups.forEach((g, i) => { txt(t3GroupC[i], 120, g, 17, 'c', 'table3-group-header'); });
txt(2663, 138, 'ID', 17, 'l', 'table3-column-header');
txt(2737, 138, 'RA(J2000)', 17, 'c', 'table3-column-header');
txt(2836, 138, 'DEC(J2000)', 17, 'c', 'table3-column-header');
txt(2737, 156, '[hh mm ss]', 17, 'c', 'table3-units');
txt(2836, 156, '[deg mm ss]', 17, 'c', 'table3-units');
t3ColNames.forEach((c, i) => {
  txt(t3R[i], 138, c, 17, 'r', 'table3-column-header', {style: i >= 6 && i <= 9 ? '' : 'font-style:italic;'});
  txt(t3R[i], 156, '[mag]', 17, 'r', 'table3-units');
});
const t3Sizes = [3,3,4,4,4,3];
t3Rows.forEach((row, ri) => {
  const y = 173 + ri * 16.34;
  const parts = row.split('|');
  txt(2682, y, parts[0], 17, 'r', 'table3-id');
  txt(2779, y, parts[1], 17, 'r', 'table3-ra');
  txt(2882, y, parts[2], 17, 'r', 'table3-dec');
  const vals = [];
  parts[3].split('/').forEach((grp, gi) => {
    if (grp === 'x') for (let k = 0; k < t3Sizes[gi]; k++) vals.push('-');
    else grp.split(' ').forEach(v => vals.push(v));
  });
  vals.forEach((v, ci) => {
    if (v === '-') txt(t3R[ci] - 4, y, '…', 17, 'r', 'table3-missing');
    else txt(t3R[ci], y, v, 17, 'r', 'table3-value');
  });
});

// ================= PAGE 5: Fig. 2 and Fig. 4 =================
function axesBox(name, x0, y0, x1, y1) {
  const r = S('rect', {x:x0, y:y0, width:x1 - x0, height:y1 - y0, fill:'none', stroke:'#111', 'stroke-width':1.2});
  
  
}
// Fig 2
const f2x = lin(2.25, 2.50, 4412, 4650);
const f2y = lin(0, 25, 746, 108);
axesBox('fig2-frame', 4375, 103, 4648, 750);
for (let k = 0; k <= 29; k++) {
  const wl = 2.22 + k * 0.01; const X = f2x(wl); if (X < 4376 || X > 4647) continue;
  const major = Math.abs((wl * 100) % 5) < 0.01 || Math.abs((wl * 100) % 5 - 5) < 0.01;
  const L = major ? 9 : 5;
  S('path', {d:`M${X},750v-${L}M${X},103v${L}`, stroke:'#111'});
}
fig2XTicks.forEach(t => {
  const lt = S('text', {x:f2x(+t), y:772, 'text-anchor':'middle', 'font-size':14, 'letter-spacing':1, 'font-family':'Liberation Sans'});
  lt.textContent = t;
  
});
for (let v = 0; v <= 25; v++) { const Y = f2y(v); const L = v % 5 ? 5 : 9; S('path', {d:`M4375,${Y}h${L}M4648,${Y}h-${L}`, stroke:'#111'}); }
fig2YTicks.forEach(v => {
  const lt = S('text', {x:4369, y:f2y(v) + 5, 'text-anchor':'end', 'font-size':14, 'letter-spacing':1, 'font-family':'Liberation Sans'});
  lt.textContent = v;
  
});
const f2xl = S('text', {x:4512, y:790, 'text-anchor':'middle', 'font-size':14, 'letter-spacing':1, 'font-family':'Liberation Sans'}); f2xl.textContent = 'Wavelength (μm)';

const f2yl = S('text', {x:0, y:0, 'text-anchor':'middle', 'font-size':14, 'letter-spacing':1, 'font-family':'Liberation Sans', transform:'translate(4340,434) rotate(-90)'}); f2yl.textContent = 'Flux [arbitrary units]';

fig2Ids.forEach((id, i) => {
  const d = longKwl.map((w, k) => (k ? 'L' : 'M') + f2x(w).toFixed(1) + ',' + f2y(fig2Base[i] + longKoff[k] * fig2Depth[i]).toFixed(1)).join('');
  const pth = S('path', {d:d, fill:'none', stroke:'#111', 'stroke-width':1.1});
  
  
  const lt = S('text', {x:4437, y:f2y(fig2Base[i]) - 5, 'text-anchor':'middle', 'font-size':12, 'font-family':'Liberation Sans'});
  lt.textContent = id;
  
});
// Fig 4
const f4x = lin(2.10, 2.30, 4773, 5024);
const f4y = lin(0, 30, 467, 150);
axesBox('fig4-frame', 4736, 97, 5036, 488);
for (let k = 0; k <= 24; k++) {
  const wl = 2.07 + k * 0.01; const X = f4x(wl); if (X < 4737 || X > 5035) continue;
  const L = (k % 5 === 3) ? 9 : 5;
  S('path', {d:`M${X},488v-${L}M${X},97v${L}`, stroke:'#111'});
}
fig4XTicks.forEach(t => {
  const lt = S('text', {x:f4x(+t), y:507, 'text-anchor':'middle', 'font-size':13, 'letter-spacing':1, 'font-family':'Liberation Sans'});
  lt.textContent = t;
  
});
for (let v = 0; v <= 35; v += 2) { const Y = f4y(v); if (Y < 98) continue; const L = v % 10 ? 5 : 9; S('path', {d:`M4736,${Y}h${L}M5036,${Y}h-${L}`, stroke:'#111'}); }
fig4YTicks.forEach(v => {
  const lt = S('text', {x:4728, y:f4y(v) + 5, 'text-anchor':'end', 'font-size':13, 'letter-spacing':1, 'font-family':'Liberation Sans'});
  lt.textContent = v;
  
});
const f4xl = S('text', {x:4886, y:520, 'text-anchor':'middle', 'font-size':13, 'letter-spacing':1, 'font-family':'Liberation Sans'}); f4xl.textContent = 'Wavelength (μm)';

const f4yl = S('text', {x:0, y:0, 'text-anchor':'middle', 'font-size':13, 'letter-spacing':0.5, 'font-family':'Liberation Sans', transform:'translate(4705,295) rotate(-90)'}); f4yl.textContent = 'Flux [arbitrary units]';

fig4Ids.forEach((id, i) => {
  const d = medKwl.map((w, k) => (k ? 'L' : 'M') + f4x(w).toFixed(1) + ',' + f4y(fig4Base[i] + medKslope[k] + medKfeat[k] * fig4Depth[i]).toFixed(1)).join('');
  const pth = S('path', {d:d, fill:'none', stroke:'#111', 'stroke-width':1});
  
  
  const lt = S('text', {x:4782, y:f4y(fig4Base[i]) - 6, 'text-anchor':'middle', 'font-size':8.5, 'font-family':'Liberation Sans', 'font-weight':'bold'});
  lt.textContent = id;
  
});
[['I HI',4860,124],['I',4908,124],['NaI',4932,124],['CO',4980,113],['II',4982,124],['I',5010,113],['CaI',5005,124]].forEach(a => {
  const lt = S('text', {x:a[1], y:a[2], 'text-anchor':'middle', 'font-size':9, 'font-weight':'bold', 'font-family':'Liberation Sans'});
  lt.textContent = a[0];
  
});
flow('fig2-caption', 4304, 828, 366, 16, 12.6, ['Fig. 2. Long-K spectra taken with UIST. Identification numbers refer to Table 4. All are late-type stars, with the exception of star 13.']);
flow('p5-left', 4304, 907, 366, 15.85, 13, ['NOAO/onedspec package¹. Pairs of subsequent images at different nod-positions were subtracted and flat-fielded. Wavelength calibration was performed with observations of arc lamps. Only spectra with a signal-to-noise ratio above 30 were used. For each star, typically, four spectra were combined and then corrected for atmospheric transmission and instrumental response. Hydrogen and helium lines were removed from the spectra of the standard stars with a linear interpolation; the intrinsic continuum slopes of'], true);
flow('p5-footnote', 4304, 1048, 366, 14.4, 11.4, ['>¹ IRAF is distributed by the National Optical Astronomy Observatories, which is operated by the Association of Universities for Research in Astronomy, Inc., under cooperative agreement with the National Science Foundation.']);
flow('fig4-caption', 4688, 536, 366, 16.5, 12.6, ['Fig. 4. Medium-resolution K spectra taken with SofI. Identification numbers are taken from Table 4. All stars are late-type stars, with the exception of star 39.']);
flow('p5-right-a', 4688, 612, 366, 15.9, 13, ['the standard spectra were eliminated by dividing them by blackbody curves (calculated at the Teff of the standard stars). A total of 28 low-resolution spectra and 13 medium-resolution spectra were obtained (see Table 4, Fig. 3, and Fig. 4).']);
flow('p5-right-b', 4688, 726, 366, 15.85, 13, [
 'For the target stars, simultaneous photometric measurements in bands J, H, and Ks were available in the Two Micron all Sky Survey (2MASS) catalog (Skrutskie et al. 2006), with 1.″0 resolution; for two fields, additional near-infrared measurements (simultaneous I, J, and Ks) were available from the Deep Near-Infrared Survey (DENIS) catalog (Epchtein et al. 1999). Deep J, H, and K photometry was obtained from the UKIDSS Galactic Plane Survey (Hodgkin et al. 2009; Lucas et al. 2008).',
 '>Mid-infrared data were available from the Galactic Legacy Infrared Mid-Plane Survey Extraordinaire (GLIMPSE) with the Spitzer Space Telescope, from the Midcourse Space Experiment (MSX) Spatial Infrared Imaging Telescope (SPIRIT III), and from the Wide-field Infrared Survey Explorer (WISE) satellite (Benjamin et al. 2003; Egan et al. 2003; Fazio et al. 2004; Wright et al. 2010). The SPITZER/IRAC camera acquired simultaneous images in the four channels at 3.6, 4.5, 5.8, and 8.0 μm, with a spatial resolution of 1.″2 and a sensitivity of 2 mJy. MSX covered from 8 μm to 21 μm, with a pixel scale of 18.″3, and a sensitivity of 0.1 Jy at the short-wavelength. WISE bands are centered at 3.4, 4.6, 12, and 22 μm; detectability limits are 0.08, 0.11, 1, and 6 mJy; spatial resolutions are 6.″1, 6.″4, 6.″5, and 12.″0, respectively.',
 '>DENIS and 2MASS data were cross-matched using a search radius of 2.″0; 2MASS astrometry was retained. Mid-infrared'], true);
</script>
</body></html>
